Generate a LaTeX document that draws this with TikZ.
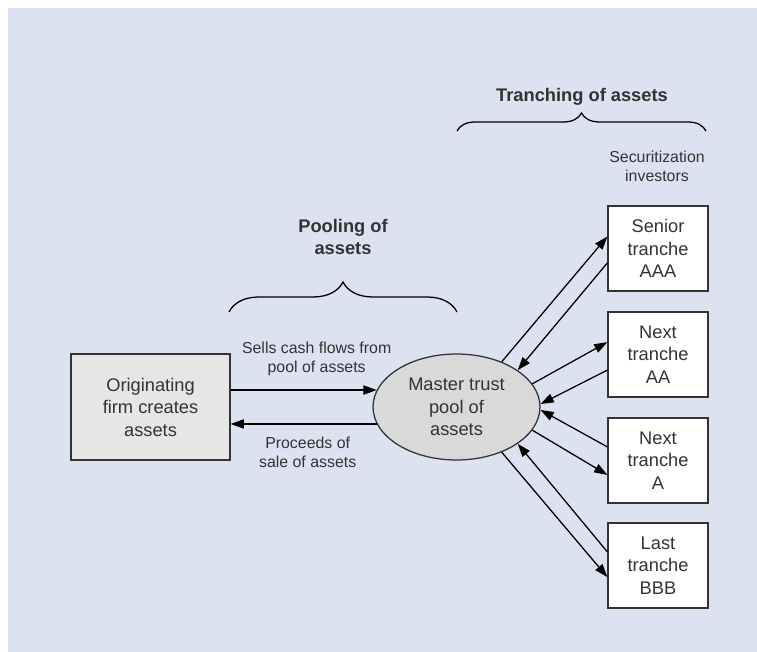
\documentclass[tikz,border=0pt]{standalone}
\usepackage{fontspec}
\setsansfont{Liberation Sans}
\usepackage{tikz}
\usetikzlibrary{shapes.geometric,arrows.meta,decorations.pathreplacing,positioning}

\definecolor{bgblue}{RGB}{220,226,240}
\definecolor{firmgray}{RGB}{230,230,230}
\definecolor{poolgray}{RGB}{217,217,217}
\definecolor{textgray}{RGB}{51,51,51}

\begin{document}
\begin{tikzpicture}[font=\sffamily]
    % Setup the styles for the boxes, labels and arrows
    \tikzset{box style/.style={
        draw=black!80,
        line width=0.9pt,
        text=textgray,
        align=center,
        font=\sffamily\fontsize{13}{16}\selectfont},
      firm style/.style={box style,
        fill=firmgray,
        minimum width=3.975cm,
        minimum height=2.65cm},
      pool style/.style={box style,
        ellipse,
        fill=poolgray,
        inner sep=0pt,
        minimum width=4.175cm,
        minimum height=2.65cm},
      tranche style/.style={box style,
        fill=white,
        minimum width=2.5cm,
        minimum height=2.125cm},
      label style/.style={
        text=textgray,
        align=center,
        inner sep=0pt,
        font=\sffamily\fontsize{11.3}{13.5}\selectfont},
      title style/.style={
        text=textgray,
        align=center,
        font=\sffamily\bfseries\fontsize{13}{15.6}\selectfont},
      flow/.style={
        line width=0.9pt,
        -{Triangle[length=3.3mm,width=2.3mm]}},
      brace style/.style={
        decorate,
        line width=0.9pt,
        decoration={brace, amplitude=#1}}}

    % Background
    \useasboundingbox (0,0) rectangle (18.925,16.3);
    \fill[bgblue] (0.2,0) rectangle (18.925,16.1);

    % Draw the nodes
    \node[firm style] at (3.7625, 6.125)  (firm) {Originating\\firm creates\\assets};
    \node[pool style] at (11.4125, 6.125) (pool) {Master trust\\pool of\\assets};
    \node[tranche style] at (16.45, 10.0875) (aaa) {Senior\\tranche\\AAA};
    \node[tranche style] at (16.45, 7.4375)  (aa)  {Next\\tranche\\AA};
    \node[tranche style] at (16.45, 4.7875)  (a)   {Next\\tranche\\A};
    \node[tranche style] at (16.45, 2.1625)  (bbb) {Last\\tranche\\BBB};

    % Titles and braces
    \node[label style] at (16.425, 12.15) (investors) {Securitization\\investors};
    \node[title style] at (14.55, 13.875) (tranching) {Tranching of assets};
    \node[title style] at (8.575, 10.375) (pooling)   {Pooling of\\assets};
    \draw[brace style=0.45cm] (11.425, 13.025) -- (17.65, 13.025);
    \draw[brace style=0.75cm] (5.725, 8.5) -- (11.425, 8.5);

    % Connect the firm and the pool
    \path[flow]
        (firm.east |- pool.168) edge node[label style, above=0.33cm, xshift=0.325cm]
            {Sells cash flows from\\pool of assets} (pool.168)
        (pool.192) edge node[label style, below=0.3cm, xshift=0.1cm]
            {Proceeds of\\sale of assets} (firm.east |- pool.192);

    % Connect the pool and the tranches
    \foreach \t/\outang/\outy/\inang/\iny in
        {aaa/45/0.3/31/-0.36, aa/17/0.31/2/-0.39,
         a/-17/-0.36/-2/0.34, bbb/-45/-0.29/-31/0.34}
        \path[flow] (pool.\outang) edge ([yshift=\outy cm]\t.west)
                    ([yshift=\iny cm]\t.west) edge (pool.\inang);
\end{tikzpicture}
\end{document}
